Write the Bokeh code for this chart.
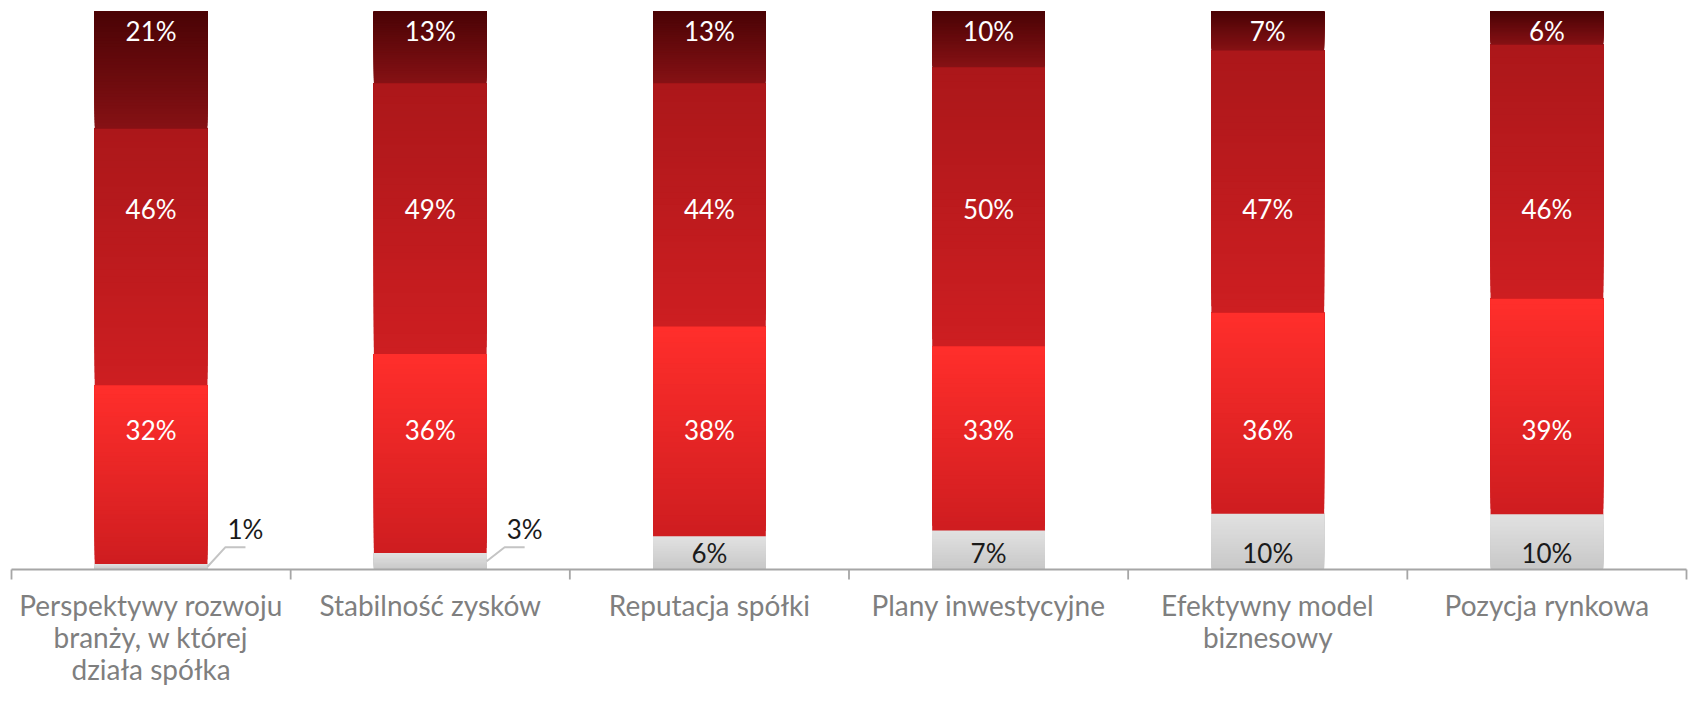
import numpy as np
from bokeh.plotting import figure
from bokeh.models import ColumnDataSource, Range1d
from bokeh.embed import file_html
from bokeh.resources import INLINE
from bokeh.core.properties import value

# ---------------- data ----------------
categories = [
    "Perspektywy rozwoju\nbranży, w której\ndziała spółka",
    "Stabilność zysków",
    "Reputacja spółki",
    "Plany inwestycyjne",
    "Efektywny model\nbiznesowy",
    "Pozycja rynkowa",
]
grey_vals = [1, 3, 6, 7, 10, 10]
bright_vals = [32, 36, 38, 33, 36, 39]
medium_vals = [46, 49, 44, 50, 47, 46]
dark_vals = [21, 13, 13, 10, 7, 6]

# ---------------- style ----------------
FONT = "Lato"
W, H = 1688, 687
TOP_BORDER = 11
LEFT_PAD = 11
RIGHT_PAD = 2
FRAME_H = H - TOP_BORDER
PX_PER_UNIT_Y = 558.0
BAR_W = 0.404
N_SLICES = 40
series = [
    # values, bottom colour, top colour, label colour, label y (fraction of bar)
    (grey_vals, (200, 200, 200), (225, 225, 225), "#1a1a1a", 0.029),
    (bright_vals, (207, 29, 32), (255, 46, 43), "white", 0.250),
    (medium_vals, (205, 30, 33), (172, 23, 26), "white", 0.646),
    (dark_vals, (134, 17, 20), (74, 3, 5), "white", 0.965),
]

n = len(categories)
CAT_PX = (W - LEFT_PAD - RIGHT_PAD) / n
ypx = 1.0 / PX_PER_UNIT_Y
xpx = 1.0 / CAT_PX
y0 = 1.0 - FRAME_H * ypx
x0 = -0.5 - LEFT_PAD * xpx
x1 = x0 + W * xpx

p = figure(width=W, height=H, output_backend="svg", toolbar_location=None,
           x_range=Range1d(x0, x1), y_range=Range1d(y0, 1.0),
           x_axis_location=None, y_axis_location=None,
           min_border_left=0, min_border_right=0, min_border_top=TOP_BORDER,
           min_border_bottom=0)
p.outline_line_color = None
p.grid.grid_line_color = None
p.background_fill_color = "white"

totals = np.sum([s[0] for s in series], axis=0).astype(float)
xs = np.arange(n)
cum = np.zeros(n)

slices = dict(left=[], right=[], bottom=[], top=[], color=[])
labels_in = dict(x=[], y=[], text=[], color=[])
labels_out = dict(x=[], y=[], text=[])
leaders = dict(xs=[], ys=[])

for vals, c_bot, c_top, lab_col, lab_y in series:
    frac = np.array(vals, dtype=float) / totals
    for i in range(n):
        b = cum[i]
        h = frac[i]
        # gradient: overlapping slices, each reaching the segment top
        for k in range(N_SLICES):
            t = k / (N_SLICES - 1)
            rgb = tuple(int(round(c_bot[j] + (c_top[j] - c_bot[j]) * t)) for j in range(3))
            slices["left"].append(xs[i] - BAR_W / 2)
            slices["right"].append(xs[i] + BAR_W / 2)
            slices["bottom"].append(b + h * k / N_SLICES)
            slices["top"].append(b + h)
            slices["color"].append("#%02x%02x%02x" % rgb)
        txt = "%d%%" % vals[i]
        if vals[i] >= 5:
            labels_in["x"].append(xs[i])
            labels_in["y"].append(lab_y)
            labels_in["text"].append(txt)
            labels_in["color"].append(lab_col)
        else:
            xr = xs[i] + BAR_W / 2
            labels_out["x"].append(xr + 20 * xpx)
            labels_out["y"].append(0.073)
            labels_out["text"].append(txt)
            leaders["xs"].append([xr, xr + 18 * xpx, xr + 38 * xpx])
            leaders["ys"].append([b + h / 2, 0.04, 0.04])
    cum = cum + frac

p.quad(left="left", right="right", bottom="bottom", top="top",
       fill_color="color", line_color=None,
       source=ColumnDataSource(slices))

p.text(x="x", y="y", text="text", text_color="color", source=ColumnDataSource(labels_in),
       text_font=value(FONT), text_font_size="26px", text_align="center",
       text_baseline="middle")
p.text(x="x", y="y", text="text", text_color="#1a1a1a", source=ColumnDataSource(labels_out),
       text_font=value(FONT), text_font_size="26px", text_align="left",
       text_baseline="middle")
p.multi_line(xs="xs", ys="ys", line_color="#c4c4c4", line_width=2,
             source=ColumnDataSource(leaders))

# axis line and boundary ticks
bounds = np.arange(n + 1) - 0.5
p.segment(x0=[bounds[0]], y0=[0], x1=[bounds[-1]], y1=[0], line_color="#a6a6a6", line_width=1.8)
p.segment(x0=bounds, y0=np.zeros(n + 1), x1=bounds, y1=np.full(n + 1, -10 * ypx),
          line_color="#a6a6a6", line_width=1.8)

# category labels
p.text(x=xs, y=np.full(n, -18 * ypx), text=categories, text_color="#7f7f7f",
       text_font=value(FONT), text_font_size="28px", text_align="center",
       text_baseline="top", text_line_height=0.95)

open("out.html", "w").write(file_html(p, INLINE))
